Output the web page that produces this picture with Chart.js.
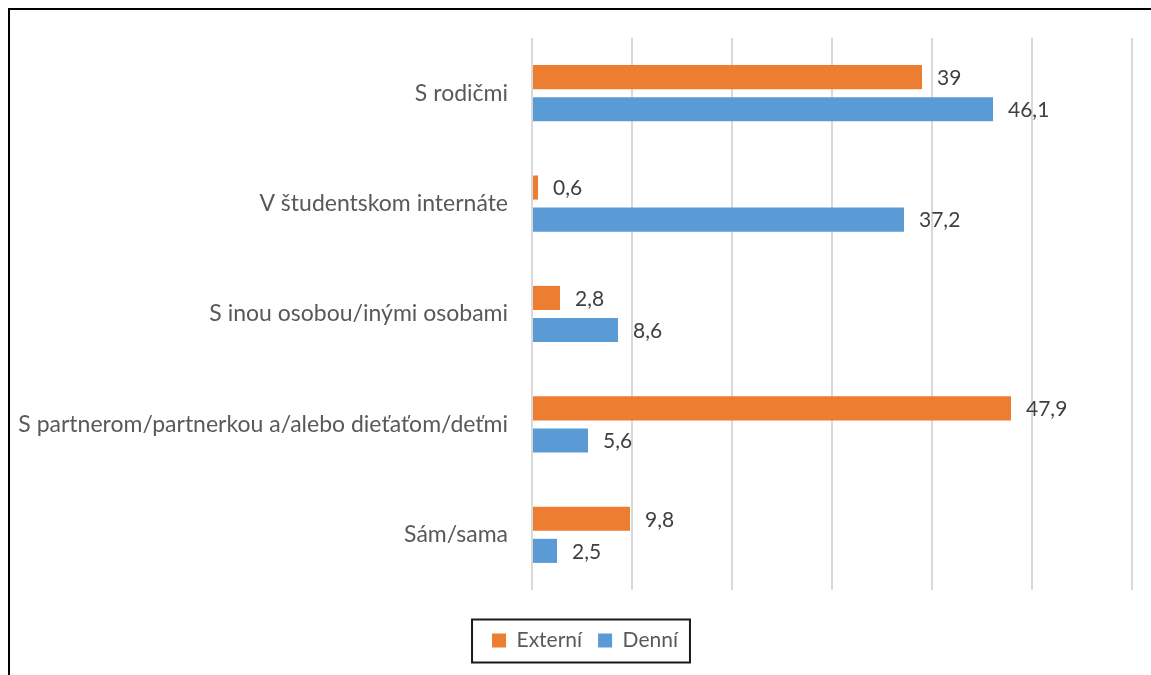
<!DOCTYPE html>
<html>
<head>
<meta charset="utf-8">
<script src="https://cdn.jsdelivr.net/npm/chart.js@4"></script>
<style>
  html, body { margin: 0; padding: 0; background: #fff; }
  #wrap { width: 1151px; height: 675px; position: relative; }
</style>
</head>
<body>
<div id="wrap"><canvas id="chart" width="1151" height="675"></canvas></div>
<script>
const categories = [
  'S rodičmi',
  'V študentskom internáte',
  'S inou osobou/inými osobami',
  'S partnerom/partnerkou a/alebo dieťaťom/deťmi',
  'Sám/sama'
];
const externi = [39, 0.6, 2.8, 47.9, 9.8];
const denni = [46.1, 37.2, 8.6, 5.6, 2.5];
const xTicks = [0, 10, 20, 30, 40, 50, 60];

const FONT = 'Lato, "Open Sans", sans-serif';

// legend sits a bit right of the canvas centre, like in the original
const legendShift = {
  id: 'legendShift',
  afterLayout(chart) {
    chart.legend.left = 38;
  }
};

// frame lines + legend box
const framePlugin = {
  id: 'frame',
  afterDraw(chart) {
    const ctx = chart.ctx;
    ctx.save();
    ctx.strokeStyle = '#000';
    ctx.lineWidth = 2;
    ctx.beginPath();
    ctx.moveTo(9, 675);
    ctx.lineTo(9, 9);
    ctx.lineTo(1151, 9);
    ctx.stroke();

    const hb = chart.legend.legendHitBoxes;
    if (hb && hb.length) {
      const l = hb[0].left - 20;
      const r = hb[hb.length - 1].left + hb[hb.length - 1].width + 12;
      const cy = hb[0].top + hb[0].height / 2;
      ctx.strokeStyle = '#1a1a1a';
      ctx.lineWidth = 2;
      ctx.strokeRect(l, cy - 21, r - l, 43);
    }
    ctx.restore();
  }
};

// value labels at the end of each bar
const valueLabels = {
  id: 'valueLabels',
  afterDatasetsDraw(chart) {
    const ctx = chart.ctx;
    ctx.save();
    ctx.font = '21px ' + FONT;
    ctx.fillStyle = '#404040';
    ctx.textAlign = 'left';
    ctx.textBaseline = 'middle';
    chart.data.datasets.forEach((ds, i) => {
      chart.getDatasetMeta(i).data.forEach((bar, j) => {
        const txt = String(ds.data[j]).replace('.', ',');
        ctx.fillText(txt, bar.x + 15, bar.y + 1);
      });
    });
    ctx.restore();
  }
};

new Chart(document.getElementById('chart'), {
  type: 'bar',
  data: {
    labels: categories,
    datasets: [
      { label: 'Externí', data: externi, backgroundColor: '#ED7D31',
        categoryPercentage: 0.582, barPercentage: 0.75 },
      { label: 'Denní', data: denni, backgroundColor: '#5B9BD5',
        categoryPercentage: 0.582, barPercentage: 0.75 }
    ]
  },
  options: {
    indexAxis: 'y',
    responsive: false,
    animation: false,
    layout: { padding: { top: 38, right: 19, bottom: 14, left: 0 } },
    scales: {
      x: {
        min: 0, max: 60,
        afterBuildTicks(scale) { scale.ticks = xTicks.map(v => ({ value: v })); },
        ticks: { display: false },
        grid: { color: '#d9d9d9', lineWidth: 2, drawTicks: false },
        border: { display: false },
        afterFit(scale) { scale.height = 24; }
      },
      y: {
        ticks: { color: '#595959', font: { size: 23, family: FONT }, padding: 16 },
        grid: { display: false },
        border: { display: false },
        afterFit(scale) { scale.width = 532; }
      }
    },
    plugins: {
      legend: {
        position: 'bottom',
        labels: {
          color: '#595959',
          font: { size: 21, family: FONT },
          boxWidth: 14, boxHeight: 14,
          padding: 16
        }
      },
      tooltip: { enabled: false }
    }
  },
  plugins: [legendShift, valueLabels, framePlugin]
});
</script>
</body>
</html>
